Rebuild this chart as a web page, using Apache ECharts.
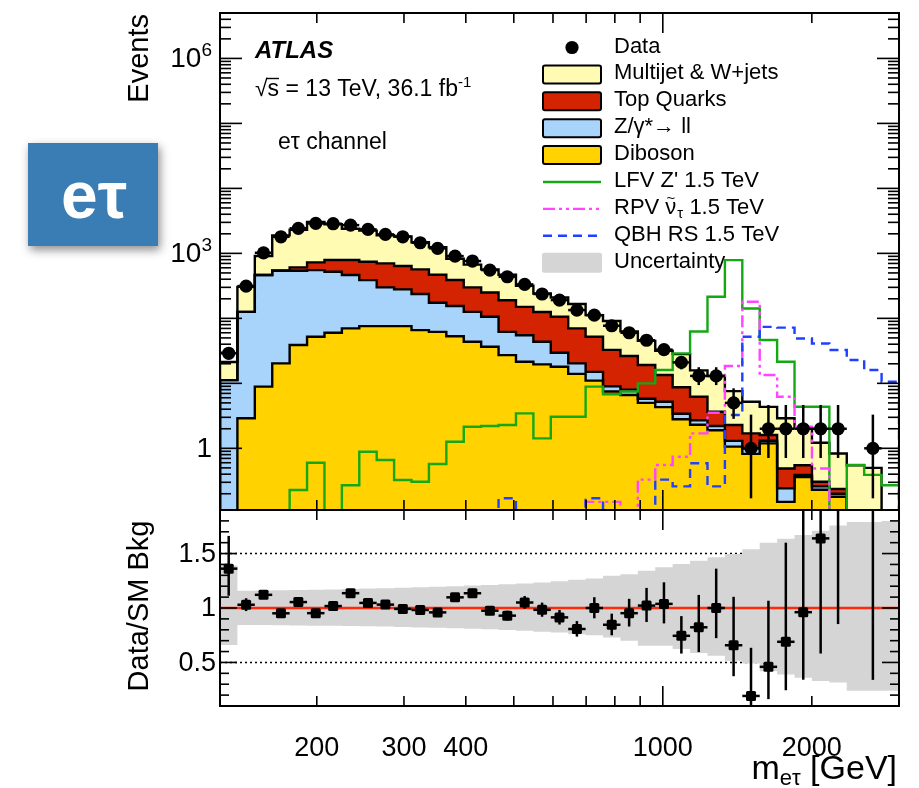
<!DOCTYPE html>
<html>
<head>
<meta charset="utf-8">
<script src="https://cdn.jsdelivr.net/npm/echarts@6/dist/echarts.min.js"></script>
<style>
  html, body { margin: 0; padding: 0; background: #ffffff; }
  #chart { width: 919px; height: 788px; }
</style>
</head>
<body>
<div id="chart"></div>
<script>
// ---- m(e tau) binning: 39 log-uniform bins, edges in GeV ----
const binEdges = [127.50, 138.25, 149.92, 162.56, 176.27, 191.14, 207.27, 224.75, 243.70, 264.26,
  286.55, 310.72, 336.93, 365.35, 396.17, 429.59, 465.82, 505.12, 547.72, 593.92,
  644.02, 698.34, 757.24, 821.12, 890.38, 965.48, 1046.92, 1135.23, 1230.99, 1334.82,
  1447.41, 1569.50, 1701.89, 1845.44, 2001.11, 2169.89, 2352.92, 2551.39, 2766.59, 3000.00];

// ---- observed events per bin ----
const dataCounts = [29, 314, 1020, 1800, 2430, 2890, 2860, 2720, 2340, 1960,
  1800, 1456, 1194, 908, 762, 553, 437, 333, 237, 191,
  134, 112, 77, 60, 46, 33, 21, 13, 13, 5,
  1, 2, 2, 2, 2, 2, 0, 1, 0];
const dataErrLo = [5.3, 17.7, 31.9, 42.4, 49.3, 53.8, 53.5, 52.2, 48.4, 44.3,
  42.4, 38.2, 34.6, 30.1, 27.6, 23.5, 20.9, 18.2, 15.4, 13.8,
  11.6, 10.6, 8.8, 7.7, 6.8, 5.7, 4.6, 3.6, 3.6, 2.16,
  0.83, 1.29, 1.29, 1.29, 1.29, 1.29, 0, 0.83, 0];
const dataErrHi = [6.4, 18.2, 32.4, 42.9, 49.8, 54.3, 54.0, 52.7, 48.9, 44.8,
  42.9, 38.7, 35.1, 30.6, 28.1, 24.0, 21.4, 18.8, 15.9, 14.3,
  12.1, 11.1, 9.3, 8.3, 7.3, 6.3, 5.1, 4.7, 4.7, 3.38,
  2.30, 2.64, 2.64, 2.64, 2.64, 2.64, 0, 2.30, 0];

// ---- SM background components (stacked bottom to top) ----
const diboson = [0, 2.9, 8.9, 20.3, 38.8, 52, 60, 70, 76, 76,
  76, 66, 62, 53, 43.6, 36.5, 27.2, 21.5, 19.6, 18,
  14, 11, 7.5, 6.6, 5, 4.3, 2.8, 2.3, 1.9, 1.06,
  0.82, 1.19, 0.15, 0.36, 0.23, 0.18, 0, 0, 0];
const zll = [11.2, 123, 455, 520, 501, 501, 461, 394, 312, 224,
  203, 171, 112, 102, 82.4, 69.5, 34.8, 33.5, 24, 11.5,
  6.3, 4, 1.5, 1.4, 0.8, 0.9, 0.6, 0.4, 0.3, 0.24,
  0.18, 0.12, 0.092, 0.03, 0.03, 0.02, 0, 0, 0];
const topQuarks = [0, 0, 0, 5, 69, 174, 268, 325, 355, 402,
  359, 330, 296, 235, 174, 144, 128, 95, 81.4, 76.5,
  49.7, 37, 23.7, 18.4, 13.3, 8.2, 5.3, 3.5, 1.46, 0.98,
  0.7, 0.29, 0.248, 0.16, 0.046, 0.036, 0, 0, 0];
const multijet = [10.1, 179, 446, 1347, 1696, 2306, 2021, 1605, 1493, 1199,
  1177, 916, 774, 437, 371, 317, 280, 167, 116, 103,
  96, 60, 58.3, 36.6, 25.9, 18.4, 19.5, 9.6, 9.34, 5.32,
  3.5, 2.75, 2.41, 1.53, 0.914, 0.597, 0.55, 0.5, 0];

// relative systematic uncertainty on the background (up / down)
const uncUp = [0.39, 0.159, 0.16, 0.163, 0.165, 0.168, 0.171, 0.175, 0.178, 0.182,
  0.186, 0.19, 0.195, 0.2, 0.206, 0.212, 0.219, 0.226, 0.235, 0.246,
  0.26, 0.27, 0.297, 0.31, 0.343, 0.374, 0.405, 0.435, 0.466, 0.497,
  0.54, 0.6, 0.635, 0.67, 0.71, 0.757, 0.79, 0.79, 0.8];
const uncDn = [0.34, 0.156, 0.157, 0.158, 0.16, 0.162, 0.164, 0.166, 0.168, 0.171,
  0.174, 0.178, 0.182, 0.186, 0.19, 0.196, 0.203, 0.21, 0.217, 0.226,
  0.24, 0.25, 0.27, 0.3, 0.347, 0.347, 0.377, 0.414, 0.439, 0.485,
  0.51, 0.58, 0.61, 0.64, 0.67, 0.684, 0.76, 0.76, 0.76];

// ---- signal benchmarks (1.5 TeV) ----
const lfvZprime = [0, 0, 0, 0, 0.228, 0.6, 0, 0.27, 0.886, 0.66,
  0.325, 0.306, 0.574, 1.26, 2.15, 2.2, 2.28, 3.45, 1.42, 3.06,
  3.06, 8.9, 6.8, 7.5, 10.0, 16.0, 28.9, 62.6, 215, 788,
  142, 46.4, 21.5, 4.37, 4.37, 0, 0.554, 0.39, 0.27];
const rpvSneutrino = [0, 0, 0, 0, 0, 0, 0, 0, 0, 0,
  0, 0, 0, 0, 0, 0, 0, 0, 0, 0,
  0, 0.15, 0.15, 0, 0.33, 0.554, 0.74, 1.7, 3.53, 18.5,
  180, 13.4, 6.2, 2.15, 0.49, 0, 0, 0, 0];
const qbhRS = [0, 0, 0, 0, 0, 0, 0, 0, 0, 0,
  0, 0, 0, 0, 0, 0, 0.17, 0, 0, 0,
  0, 0.17, 0, 0, 0, 0.33, 0.26, 0.59, 0.26, 3.25,
  52, 74, 72, 49, 41, 32.6, 22.9, 16, 10.6];

// ---- axis ticks and labels ----
const xTickValues = [200, 300, 400, 500, 600, 700, 800, 900, 1000, 2000];
const xLongTicks = [1000];
const xTickLabels = [200, 300, 400, 1000, 2000];
const yMajorTicks = [1, 10, 100, 1000, 10000, 100000, 1000000];
const yTickLabels = [[1, '{b|1}'], [1000, '{b|10}{s|3}'], [1000000, '{b|10}{s|6}']];
const ratioMajorTicks = [0.5, 1, 1.5];
const ratioTickLabels = ['0.5', '1', '1.5'];

// ---- ranges ----
const XMIN = 127.5, XMAX = 3000;
const YMIN = 0.1124, YMAX = 5.0e6;
const RMIN = 0.1, RMAX = 1.9;

const FONT = '"Liberation Sans", Arial, Helvetica, sans-serif';
const layerColors = ['#ffd200', '#a8d3fa', '#d42300', '#fffbb3'];
const NB = dataCounts.length;

// cumulative stack levels
const layers = [diboson, zll, topQuarks, multijet];
const cumulative = [];
{
  let run = new Array(NB).fill(0);
  layers.forEach(l => { run = run.map((v, i) => v + l[i]); cumulative.push(run.slice()); });
}
const bkgTotal = cumulative[3];

const FLOOR = YMIN * 0.5;
const cy = v => Math.min(Math.max(v, FLOOR), YMAX);
const cr = v => Math.min(Math.max(v, RMIN - 0.05), RMAX + 0.05);
const binCenter = i => Math.sqrt(binEdges[i] * binEdges[i + 1]);

function seg(x1, y1, x2, y2, w, color, dash) {
  const st = { stroke: color || '#000', lineWidth: w || 1.6 };
  if (dash) st.lineDash = dash;
  return { type: 'line', shape: { x1, y1, x2, y2 }, style: st };
}

// step outline of a per-bin array
function stepPoints(api, vals, clampFn, base) {
  const pts = [api.coord([binEdges[0], base])];
  for (let i = 0; i < NB; i++) {
    const v = clampFn(vals[i]);
    pts.push(api.coord([binEdges[i], v]));
    pts.push(api.coord([binEdges[i + 1], v]));
  }
  pts.push(api.coord([binEdges[NB], base]));
  return pts;
}

// ---- renderers ----
function renderStackFill(params, api) {
  const k = params.dataIndex;
  const top = cumulative[k];
  const bottom = k === 0 ? new Array(NB).fill(FLOOR) : cumulative[k - 1];
  const pts = [];
  for (let i = 0; i < NB; i++) {
    pts.push(api.coord([binEdges[i], cy(top[i])]));
    pts.push(api.coord([binEdges[i + 1], cy(top[i])]));
  }
  for (let i = NB - 1; i >= 0; i--) {
    pts.push(api.coord([binEdges[i + 1], cy(bottom[i])]));
    pts.push(api.coord([binEdges[i], cy(bottom[i])]));
  }
  return { type: 'polygon', shape: { points: pts }, style: { fill: layerColors[k], stroke: null } };
}

function renderStackOutline(params, api) {
  const k = params.dataIndex;
  return {
    type: 'polyline',
    shape: { points: stepPoints(api, cumulative[k], cy, FLOOR) },
    style: { stroke: '#000', lineWidth: 2.4, fill: null, lineJoin: 'miter' }
  };
}

const signalDefs = [
  { vals: lfvZprime, color: '#14a814', dash: null },
  { vals: rpvSneutrino, color: '#ff45ff', dash: [12, 4, 3, 4, 3, 4] },
  { vals: qbhRS, color: '#1f40ff', dash: [9, 6] }
];
function renderSignal(params, api) {
  const s = signalDefs[params.dataIndex];
  const st = { stroke: s.color, lineWidth: 2.4, fill: null };
  if (s.dash) st.lineDash = s.dash;
  return { type: 'polyline', shape: { points: stepPoints(api, s.vals, cy, FLOOR) }, style: st };
}

function renderData(params, api) {
  const i = params.dataIndex;
  const n = dataCounts[i];
  if (!(n > 0)) return null;
  const xc = binCenter(i);
  const p = api.coord([xc, n]);
  const pl = api.coord([binEdges[i], n]);
  const pr = api.coord([binEdges[i + 1], n]);
  const plo = api.coord([xc, cy(n - dataErrLo[i])]);
  const phi = api.coord([xc, cy(n + dataErrHi[i])]);
  return {
    type: 'group', children: [
      seg(plo[0], plo[1], phi[0], phi[1], 2.5),
      seg(pl[0], p[1], pr[0], p[1], 2.5),
      { type: 'circle', shape: { cx: p[0], cy: p[1], r: 6.6 }, style: { fill: '#000' } }
    ]
  };
}

function renderBand(params, api) {
  const pts = [];
  for (let i = 0; i < NB; i++) {
    const u = cr(1 + uncUp[i]);
    pts.push(api.coord([binEdges[i], u]));
    pts.push(api.coord([binEdges[i + 1], u]));
  }
  for (let i = NB - 1; i >= 0; i--) {
    const d = cr(1 - uncDn[i]);
    pts.push(api.coord([binEdges[i + 1], d]));
    pts.push(api.coord([binEdges[i], d]));
  }
  return { type: 'polygon', shape: { points: pts }, style: { fill: '#d5d5d5' } };
}

function renderDotted(params, api) {
  const kids = [];
  [0.5, 1.5].forEach(v => {
    const a = api.coord([XMIN, v]), b = api.coord([XMAX, v]);
    kids.push(seg(a[0], a[1], b[0], b[1], 1.6, '#000', [2, 3]));
  });
  return { type: 'group', children: kids };
}

function renderUnity(params, api) {
  const a = api.coord([XMIN, 1]), b = api.coord([XMAX, 1]);
  return seg(a[0], a[1], b[0], b[1], 2.6, '#ff2a0a');
}

function renderRatio(params, api) {
  const i = params.dataIndex;
  const n = dataCounts[i], t = bkgTotal[i];
  if (!(n > 0) || !(t > 0)) return null;
  const r = n / t;
  const lo = (n - dataErrLo[i]) / t, hi = (n + dataErrHi[i]) / t;
  const xc = binCenter(i);
  const kids = [];
  if (lo < RMAX) {
    const a = api.coord([xc, cr(lo)]), b = api.coord([xc, cr(hi)]);
    kids.push(seg(a[0], a[1], b[0], b[1], 2.5));
  }
  if (r >= RMIN && r <= RMAX) {
    const p = api.coord([xc, r]);
    const pl = api.coord([binEdges[i], r]), pr = api.coord([binEdges[i + 1], r]);
    kids.push(seg(pl[0], p[1], pr[0], p[1], 2.5));
    kids.push({ type: 'rect', shape: { x: p[0] - 5, y: p[1] - 5, width: 10, height: 10, r: 1.5 }, style: { fill: '#000' } });
  }
  return { type: 'group', children: kids };
}

// frame, ticks and tick labels of the upper panel
function renderFrameTop(params, api) {
  const kids = [];
  const tl = api.coord([XMIN, YMAX]), br = api.coord([XMAX, YMIN]);
  kids.push({ type: 'rect', shape: { x: tl[0], y: tl[1], width: br[0] - tl[0], height: br[1] - tl[1] },
    style: { fill: null, stroke: '#000', lineWidth: 2 } });
  xTickValues.forEach(v => {
    const len = xLongTicks.includes(v) ? 20 : 10;
    const x = api.coord([v, YMIN])[0];
    kids.push(seg(x, br[1], x, br[1] - len));
    kids.push(seg(x, tl[1], x, tl[1] + len));
  });
  yMajorTicks.forEach(v => {
    const y = api.coord([XMIN, v])[1];
    kids.push(seg(tl[0], y, tl[0] + 22, y));
    kids.push(seg(br[0], y, br[0] - 22, y));
  });
  for (let e = -1; e <= 6; e++) {
    for (let m = 2; m <= 9; m++) {
      const v = m * Math.pow(10, e);
      if (v <= YMIN || v >= YMAX) continue;
      const y = api.coord([XMIN, v])[1];
      kids.push(seg(tl[0], y, tl[0] + 11, y));
      kids.push(seg(br[0], y, br[0] - 11, y));
    }
  }
  yTickLabels.forEach(([v, txt]) => {
    const y = api.coord([XMIN, v])[1];
    kids.push({
      type: 'text', x: tl[0] - 8, y: y + 1,
      style: {
        text: txt, fill: '#000', align: 'right', verticalAlign: 'middle',
        textAlign: 'right', textVerticalAlign: 'middle',
        rich: {
          b: { fontSize: 28, fontFamily: FONT, lineHeight: 36, fill: '#000' },
          s: { fontSize: 19, fontFamily: FONT, lineHeight: 22, verticalAlign: 'top', fill: '#000' }
        }
      }
    });
  });
  return { type: 'group', children: kids };
}

// frame, ticks and tick labels of the ratio panel
function renderFrameBottom(params, api) {
  const kids = [];
  const tl = api.coord([XMIN, RMAX]), br = api.coord([XMAX, RMIN]);
  kids.push({ type: 'rect', shape: { x: tl[0], y: tl[1], width: br[0] - tl[0], height: br[1] - tl[1] },
    style: { fill: null, stroke: '#000', lineWidth: 2 } });
  xTickValues.forEach(v => {
    const len = xLongTicks.includes(v) ? 20 : 10;
    const x = api.coord([v, RMIN])[0];
    kids.push(seg(x, br[1], x, br[1] - len));
    kids.push(seg(x, tl[1], x, tl[1] + len));
  });
  for (let k = 2; k <= 18; k++) {
    const v = k / 10;
    const major = ratioMajorTicks.some(m => Math.abs(m - v) < 1e-6);
    const len = major ? 17 : 9;
    const y = api.coord([XMIN, v])[1];
    kids.push(seg(tl[0], y, tl[0] + len, y));
    kids.push(seg(br[0], y, br[0] - len, y));
  }
  ratioMajorTicks.forEach((v, j) => {
    const y = api.coord([XMIN, v])[1];
    kids.push({ type: 'text', x: tl[0] - 4, y: y + 1,
      style: { text: ratioTickLabels[j], font: '27px ' + FONT, fill: '#000',
        align: 'right', verticalAlign: 'middle', textAlign: 'right', textVerticalAlign: 'middle' } });
  });
  xTickLabels.forEach(v => {
    const x = api.coord([v, RMIN])[0];
    kids.push({ type: 'text', x: x, y: br[1] + 43,
      style: { text: String(v), font: '27px ' + FONT, fill: '#000',
        align: 'center', verticalAlign: 'middle', textAlign: 'center', textVerticalAlign: 'middle' } });
  });
  return { type: 'group', children: kids };
}

const anchor = [[1000, 1]];
const anchorR = [[1000, 1]];

const hiddenAxis = { axisLine: { show: false }, axisTick: { show: false }, axisLabel: { show: false }, splitLine: { show: false } };

// ---- legend & annotations ----
const legendX = 614, legendRow0 = 45.5, legendStep = 26.9;
const rowY = k => legendRow0 + legendStep * k;
const legendEntries = [
  { label: 'Data' },
  { label: 'Multijet & W+jets', box: layerColors[3] },
  { label: 'Top Quarks', box: layerColors[2] },
  { label: 'Z/γ*→ ll', box: layerColors[1] },
  { label: 'Diboson', box: layerColors[0] },
  { label: 'LFV Z\' 1.5 TeV', line: signalDefs[0] },
  { label: '{n|RPV ν}{s|τ}{n| 1.5 TeV}', line: signalDefs[1], rich: true, tilde: true },
  { label: 'QBH RS 1.5 TeV', line: signalDefs[2] },
  { label: 'Uncertainty', band: '#d5d5d5' }
];

const graphics = [];
// channel badge
graphics.push({ type: 'rect', shape: { x: 28, y: 143, width: 130, height: 103 },
  style: { fill: '#3a7db5', shadowBlur: 9, shadowOffsetX: 2, shadowOffsetY: 4, shadowColor: 'rgba(0,0,0,0.45)' } });
graphics.push({ type: 'text', x: 94, y: 200, style: { text: 'eτ', fill: '#ffffff', font: 'bold 66px ' + FONT,
  align: 'center', verticalAlign: 'middle', textAlign: 'center', textVerticalAlign: 'middle' } });

legendEntries.forEach((e, k) => {
  const y = rowY(k);
  if (k === 0) {
    graphics.push({ type: 'circle', shape: { cx: 572, cy: y + 2, r: 6.6 }, style: { fill: '#000' } });
  } else if (e.box) {
    graphics.push({ type: 'rect', shape: { x: 543, y: y + 2 - 9, width: 58, height: 18, r: 2 },
      style: { fill: e.box, stroke: '#000', lineWidth: 2 } });
  } else if (e.line) {
    const st = { stroke: e.line.color, lineWidth: 2.4 };
    if (e.line.dash) st.lineDash = e.line.dash;
    graphics.push({ type: 'line', shape: { x1: 543, y1: y + 2, x2: 601, y2: y + 2 }, style: st });
  } else if (e.band) {
    graphics.push({ type: 'rect', shape: { x: 542, y: y + 2 - 10, width: 60, height: 20, r: 2 }, style: { fill: e.band } });
  }
  const st = { text: e.label, fill: '#000', font: '22px ' + FONT,
    align: 'left', verticalAlign: 'middle', textAlign: 'left', textVerticalAlign: 'middle' };
  if (e.rich) {
    st.rich = {
      n: { fontSize: 22, fontFamily: FONT, lineHeight: 26, fill: '#000' },
      s: { fontSize: 15, fontFamily: FONT, lineHeight: 26, verticalAlign: 'bottom', padding: [0, 0, 0, 1], fill: '#000' }
    };
  }
  graphics.push({ type: 'text', x: legendX, y: y + 1, style: st });
  if (e.tilde) {
    // tilde accent over the nu
    graphics.push({ type: 'text', x: legendX + 57, y: y - 8, style: { text: '~', fill: '#000', font: '15px ' + FONT,
      align: 'center', verticalAlign: 'middle', textAlign: 'center', textVerticalAlign: 'middle' } });
  }
});

// experiment label
graphics.push({ type: 'text', x: 255, y: 51.5, style: { text: 'ATLAS', fill: '#000', font: 'italic bold 24px ' + FONT,
  align: 'left', verticalAlign: 'middle', textAlign: 'left', textVerticalAlign: 'middle' } });
graphics.push({ type: 'text', x: 255, y: 89.5, style: {
  text: '{n|√s = 13 TeV, 36.1 fb}{p|-1}', align: 'left', verticalAlign: 'middle', textAlign: 'left', textVerticalAlign: 'middle',
  rich: {
    n: { fontSize: 23, fontFamily: FONT, lineHeight: 28, fill: '#000' },
    p: { fontSize: 15, fontFamily: FONT, lineHeight: 16, verticalAlign: 'top', fill: '#000' }
  } } });
// overbar of the square root
graphics.push({ type: 'line', shape: { x1: 266, y1: 78.5, x2: 279, y2: 78.5 }, style: { stroke: '#000', lineWidth: 1.4 } });
graphics.push({ type: 'text', x: 278, y: 142.5, style: { text: 'eτ channel', fill: '#000', font: '23px ' + FONT,
  align: 'left', verticalAlign: 'middle', textAlign: 'left', textVerticalAlign: 'middle' } });

// axis titles
graphics.push({ type: 'text', x: 140, y: 14, rotation: Math.PI / 2, style: { text: 'Events', fill: '#000', font: '29px ' + FONT,
  align: 'right', verticalAlign: 'middle', textAlign: 'right', textVerticalAlign: 'middle' } });
graphics.push({ type: 'text', x: 140, y: 606, rotation: Math.PI / 2, style: { text: 'Data/SM Bkg', fill: '#000', font: '29px ' + FONT,
  align: 'center', verticalAlign: 'middle', textAlign: 'center', textVerticalAlign: 'middle' } });
graphics.push({ type: 'text', x: 897, y: 770, style: {
  text: '{n|m}{s|eτ}{n| [GeV]}', align: 'right', verticalAlign: 'middle', textAlign: 'right', textVerticalAlign: 'middle',
  rich: {
    n: { fontSize: 34, fontFamily: FONT, lineHeight: 40, fill: '#000' },
    s: { fontSize: 22, fontFamily: FONT, lineHeight: 40, verticalAlign: 'bottom', fill: '#000' }
  } } });

const chart = echarts.init(document.getElementById('chart'), null, { renderer: 'canvas' });
chart.setOption({
  animation: false,
  backgroundColor: '#ffffff',
  grid: [
    { left: 220, top: 13, width: 679, height: 497, outerBoundsMode: 'none', containLabel: false },
    { left: 220, top: 510, width: 679, height: 196, outerBoundsMode: 'none', containLabel: false }
  ],
  xAxis: [
    Object.assign({ type: 'log', logBase: 10, gridIndex: 0, min: XMIN, max: XMAX }, hiddenAxis),
    Object.assign({ type: 'log', logBase: 10, gridIndex: 1, min: XMIN, max: XMAX }, hiddenAxis)
  ],
  yAxis: [
    Object.assign({ type: 'log', logBase: 10, gridIndex: 0, min: YMIN, max: YMAX }, hiddenAxis),
    Object.assign({ type: 'value', gridIndex: 1, min: RMIN, max: RMAX }, hiddenAxis)
  ],
  series: [
    { type: 'custom', name: 'stack', xAxisIndex: 0, yAxisIndex: 0, clip: true, silent: true, z: 2,
      data: layers.map(() => [1000, 1]), renderItem: renderStackFill },
    { type: 'custom', name: 'stackOutline', xAxisIndex: 0, yAxisIndex: 0, clip: true, silent: true, z: 3,
      data: layers.map(() => [1000, 1]), renderItem: renderStackOutline },
    { type: 'custom', name: 'signals', xAxisIndex: 0, yAxisIndex: 0, clip: true, silent: true, z: 4,
      data: signalDefs.map(() => [1000, 1]), renderItem: renderSignal },
    { type: 'custom', name: 'Data', xAxisIndex: 0, yAxisIndex: 0, clip: true, silent: true, z: 5,
      data: dataCounts.map((n, i) => [binCenter(i), 1]), renderItem: renderData },
    { type: 'custom', name: 'frameTop', xAxisIndex: 0, yAxisIndex: 0, clip: false, silent: true, z: 10,
      data: anchor, renderItem: renderFrameTop },
    { type: 'custom', name: 'dotted', xAxisIndex: 1, yAxisIndex: 1, clip: true, silent: true, z: 2,
      data: anchorR, renderItem: renderDotted },
    { type: 'custom', name: 'Uncertainty', xAxisIndex: 1, yAxisIndex: 1, clip: true, silent: true, z: 3,
      data: anchorR, renderItem: renderBand },
    { type: 'custom', name: 'unity', xAxisIndex: 1, yAxisIndex: 1, clip: true, silent: true, z: 4,
      data: anchorR, renderItem: renderUnity },
    { type: 'custom', name: 'ratio', xAxisIndex: 1, yAxisIndex: 1, clip: true, silent: true, z: 5,
      data: dataCounts.map((n, i) => [binCenter(i), 1]), renderItem: renderRatio },
    { type: 'custom', name: 'frameBottom', xAxisIndex: 1, yAxisIndex: 1, clip: false, silent: true, z: 10,
      data: anchorR, renderItem: renderFrameBottom }
  ],
  graphic: graphics
});
</script>
</body>
</html>
